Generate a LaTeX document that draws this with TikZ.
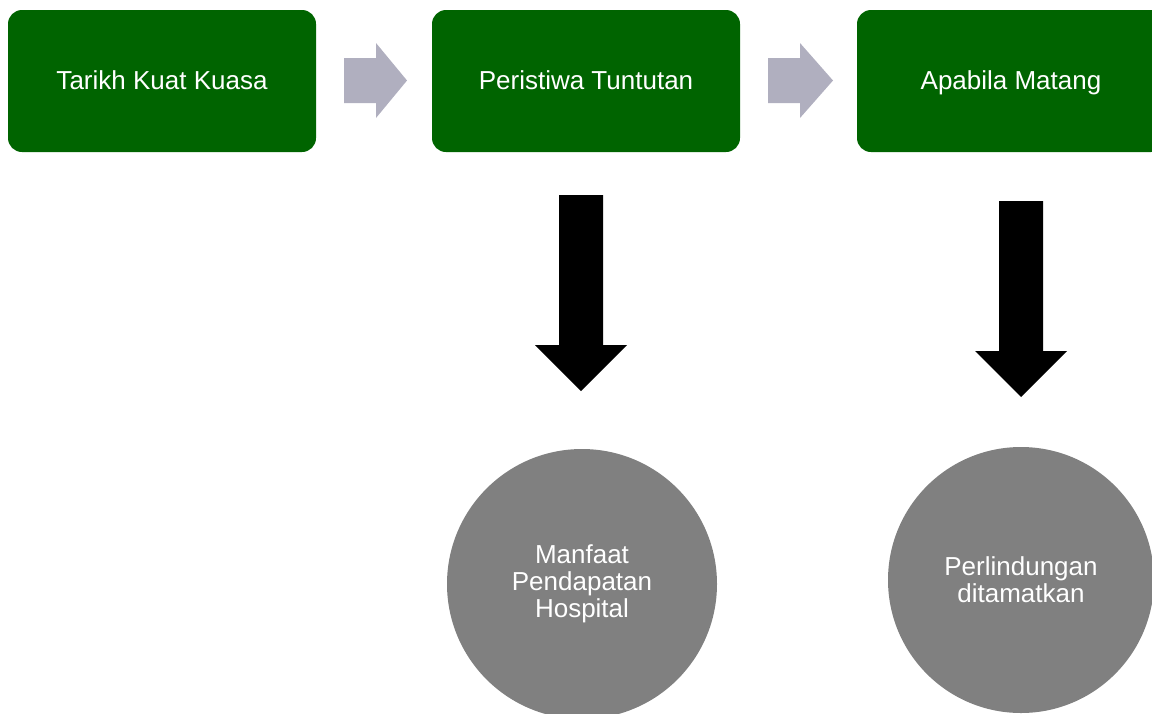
\documentclass[tikz,border=0pt]{standalone}
\usepackage{fontspec}
\setmainfont{Liberation Sans}
\definecolor{boxgreen}{RGB}{0,100,0}
\definecolor{arrowgray}{RGB}{176,175,191}
\definecolor{circgray}{RGB}{128,128,128}
\begin{document}
\begin{tikzpicture}[x=0.5pt,y=-0.5pt,
 stagebox/.style={fill=boxgreen, rounded corners=7pt, minimum width=154pt, minimum height=71pt, inner sep=0pt, text height=8.5pt, text depth=0pt, text=white, font=\fontsize{13}{13.5}\selectfont},
 outcome/.style={circle, fill=circgray, minimum size=134pt, inner sep=0pt, text=white, align=center, font=\fontsize{13}{13.5}\selectfont},
 flowarrow/.style={fill=arrowgray},
 downarrow/.style={fill=black}]
\useasboundingbox (0,0) rectangle (1152,713);
\clip (0,0) rectangle (1152,713);
\node[stagebox] (b1) at (162,81) {Tarikh Kuat Kuasa};
\node[stagebox] (b2) at (586,81) {Peristiwa Tuntutan};
\node[stagebox] (b3) at (1011,81) {Apabila Matang};
\node[outcome, minimum size=135pt] (c1) at (582,584) {Manfaat\\Pendapatan\\Hospital};
\node[outcome, minimum size=133pt] (c2) at (1021,580) {Perlindungan\\ditamatkan};
\fill[flowarrow] (344,58) -- (376,58) -- (376,43) -- (407,80.5) -- (376,118) -- (376,103) -- (344,103) -- cycle;
\fill[flowarrow] (768,58) -- (800,58) -- (800,43) -- (833,80.5) -- (800,118) -- (800,103) -- (768,103) -- cycle;
\fill[downarrow] (559,195) -- (603,195) -- (603,345) -- (627,345) -- (581,391) -- (535,345) -- (559,345) -- cycle;
\fill[downarrow] (999,201) -- (1043,201) -- (1043,351) -- (1067,351) -- (1021,397) -- (975,351) -- (999,351) -- cycle;
\end{tikzpicture}
\end{document}
